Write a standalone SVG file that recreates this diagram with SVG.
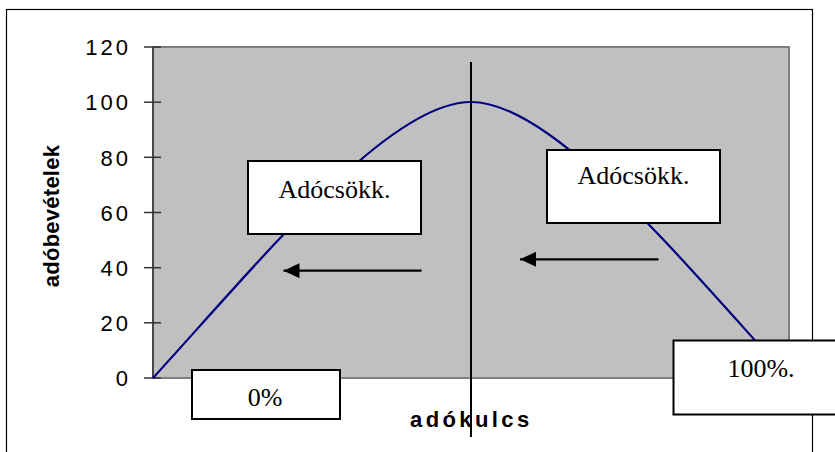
<svg xmlns="http://www.w3.org/2000/svg" width="835" height="452" viewBox="0 0 835 452">
<style>
.tick{font-family:"Liberation Sans",Arial,sans-serif;font-size:22px;letter-spacing:3px;fill:#000}
.axt{font-family:"Liberation Sans",Arial,sans-serif;font-weight:bold;font-size:22px;fill:#000}
.box{fill:#fff;stroke:#000;stroke-width:2}
.lbl{font-family:"Liberation Serif","Times New Roman",serif;font-size:26px;fill:#000;text-anchor:middle}
.tk{stroke:#333;stroke-width:1.5}
.arr{stroke:#000;stroke-width:2.2;fill:none}
</style>
<defs>
<marker id="ah" viewBox="0 0 16 15" refX="16" refY="7.5" markerWidth="16" markerHeight="15" markerUnits="userSpaceOnUse" orient="auto">
<path d="M0,0 L16,7.5 L0,15 Z" fill="#000"/>
</marker>
</defs>
<rect x="0" y="0" width="835" height="452" fill="#fff"/>
<rect x="6.5" y="9.5" width="806" height="460" fill="#fff" stroke="#000" stroke-width="1.2"/>
<g id="plot">
<rect x="153" y="47" width="636" height="331" fill="#c0c0c0" stroke="#808080" stroke-width="2"/>
<line x1="153" y1="47" x2="153" y2="378" stroke="#333" stroke-width="1.5"/>
<g class="tk">
<line x1="144" y1="47" x2="161" y2="47"/>
<line x1="144" y1="102.2" x2="161" y2="102.2"/>
<line x1="144" y1="157.3" x2="161" y2="157.3"/>
<line x1="144" y1="212.5" x2="161" y2="212.5"/>
<line x1="144" y1="267.7" x2="161" y2="267.7"/>
<line x1="144" y1="322.8" x2="161" y2="322.8"/>
<line x1="144" y1="378" x2="161" y2="378"/>
</g>
<g class="tick" text-anchor="end">
<text x="131" y="55">120</text>
<text x="131" y="110">100</text>
<text x="131" y="165.5">80</text>
<text x="131" y="220.5">60</text>
<text x="131" y="275.5">40</text>
<text x="131" y="331">20</text>
<text x="131" y="386">0</text>
</g>
<path d="M153,378 C273,246 391,102 471,102 C551,102 669,246 789,378" fill="none" stroke="#000080" stroke-width="2.2"/>
</g>
<g id="axis-titles">
<text class="axt" x="410" y="426.5" letter-spacing="3.4">adókulcs</text>
<text class="axt" transform="translate(59,216) rotate(-90)" text-anchor="middle" letter-spacing="0.25">adóbevételek</text>
</g>
<g id="divider">
<line x1="471" y1="62" x2="471" y2="437" stroke="#000" stroke-width="2"/>
</g>
<g id="box-left">
<rect class="box" x="248" y="161" width="173" height="73"/>
<text class="lbl" x="334.5" y="198">Adócsökk.</text>
</g>
<g id="box-right">
<rect class="box" x="547" y="150" width="173" height="73"/>
<text class="lbl" x="633.5" y="184">Adócsökk.</text>
</g>
<g id="box-zero">
<rect class="box" x="192" y="370" width="148" height="49"/>
<text class="lbl" x="265" y="406">0%</text>
</g>
<g id="box-hundred">
<rect class="box" x="673.5" y="340.5" width="170" height="74"/>
<text class="lbl" x="761" y="377">100%.</text>
</g>
<g id="connectors">
<line class="arr" x1="421.5" y1="270.7" x2="283.5" y2="270.7" marker-end="url(#ah)"/>
<line class="arr" x1="658.5" y1="259.3" x2="520" y2="259.3" marker-end="url(#ah)"/>
</g>
</svg>
